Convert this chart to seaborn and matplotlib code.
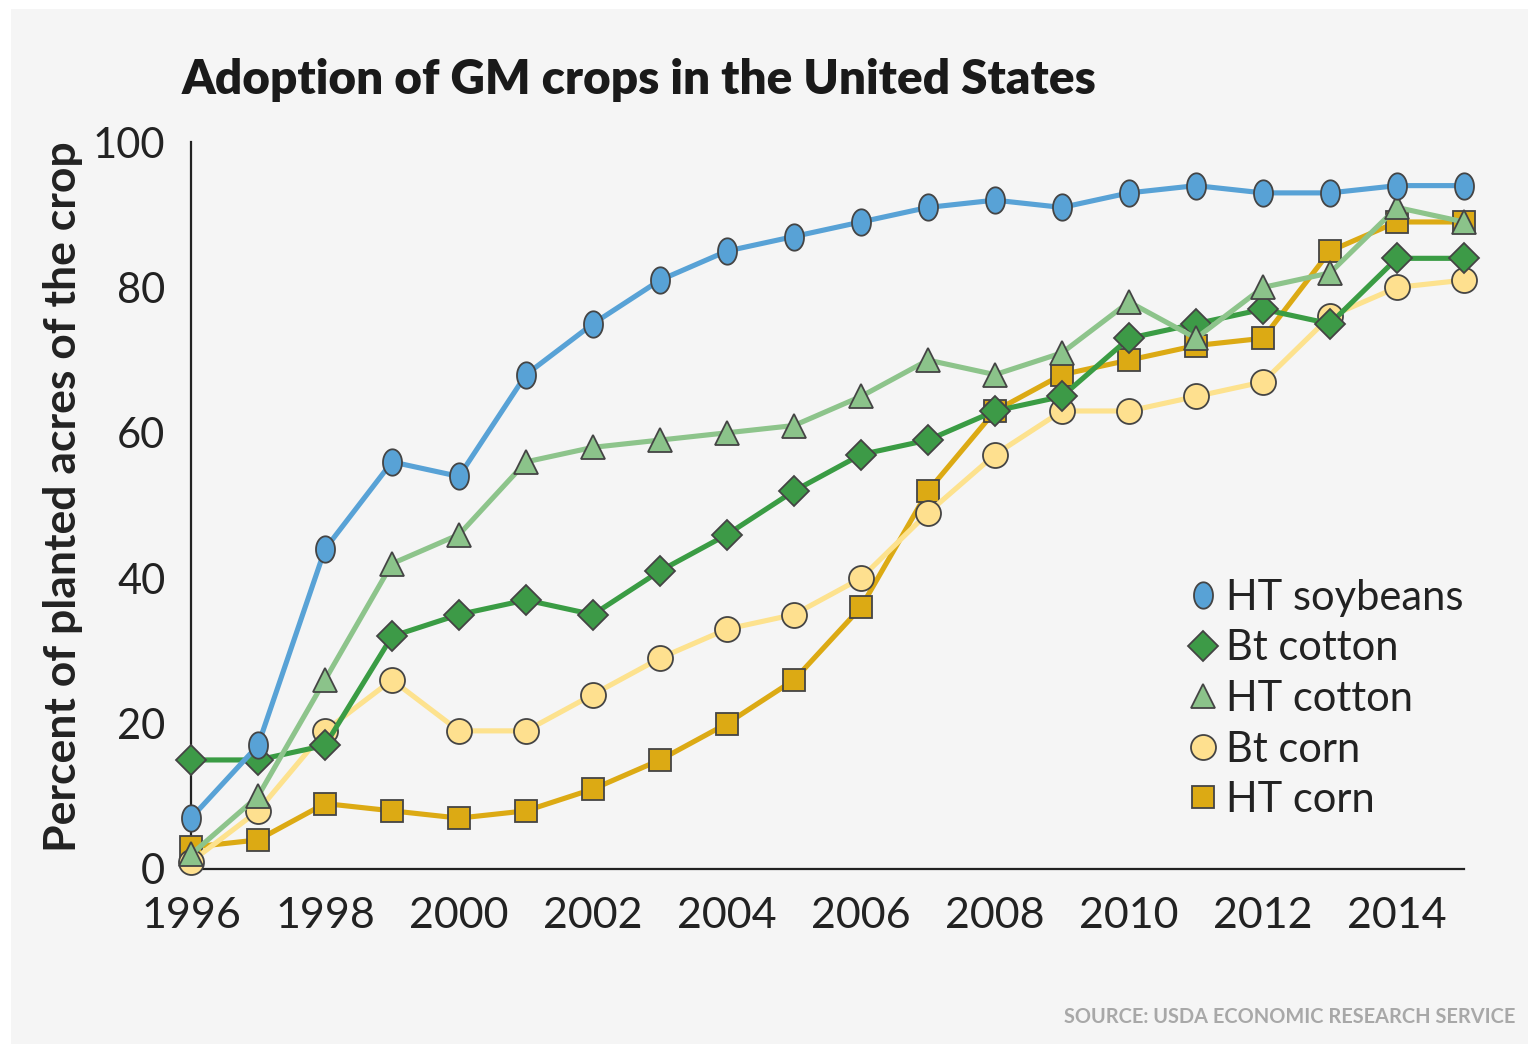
import pandas as pd
import numpy as np
import matplotlib
matplotlib.use('Agg')
import matplotlib.pyplot as plt
import seaborn as sns
from matplotlib.patches import Rectangle
from matplotlib.path import Path
from matplotlib.lines import Line2D

years = list(range(1996, 2016))
ht_soybeans = [7, 17, 44, 56, 54, 68, 75, 81, 85, 87, 89, 91, 92, 91, 93, 94, 93, 93, 94, 94]
bt_cotton = [15, 15, 17, 32, 35, 37, 35, 41, 46, 52, 57, 59, 63, 65, 73, 75, 77, 75, 84, 84]
ht_cotton = [2, 10, 26, 42, 46, 56, 58, 59, 60, 61, 65, 70, 68, 71, 78, 73, 80, 82, 91, 89]
bt_corn = [1, 8, 19, 26, 19, 19, 24, 29, 33, 35, 40, 49, 57, 63, 63, 65, 67, 76, 80, 81]
ht_corn = [3, 4, 9, 8, 7, 8, 11, 15, 20, 26, 36, 52, 63, 68, 70, 72, 73, 85, 89, 89]

series_names = ['HT soybeans', 'Bt cotton', 'HT cotton', 'Bt corn', 'HT corn']
series_values = [ht_soybeans, bt_cotton, ht_cotton, bt_corn, ht_corn]

# soybeans use a tall oval marker like the original
t = np.linspace(0, 2 * np.pi, 60)
oval = Path(np.column_stack([0.72 * np.cos(t), np.sin(t)]), closed=True)

line_colors = ['#58a2d6', '#3a9c44', '#8dc48b', '#fde28e', '#dcaa14']
marker_colors = ['#58a2d6', '#3d9a47', '#8bc38a', '#fee08f', '#dcaa14']
markers = [oval, 'D', '^', 'o', 's']
marker_sizes = [19, 15, 17, 18, 16]
# draw order, bottom to top
zorders = [10, 7, 8, 5, 4]

sns.set_style('white', {'axes.facecolor': '#f5f5f5'})
plt.rcParams['font.family'] = ['Lato', 'DejaVu Sans']

fig = plt.figure(figsize=(15.28, 10.44), dpi=100, facecolor='white')
fig.patches.append(Rectangle((11 / 1528, 0), 1 - 11 / 1528, 1 - 9 / 1044,
                             transform=fig.transFigure, facecolor='#f5f5f5',
                             edgecolor='none', zorder=-10))
ax = fig.add_axes([191 / 1528, 175 / 1044, (1464 - 191) / 1528, (869 - 142) / 1044])
ax.set_facecolor('none')

handles = []
for name, vals, lc, mc, mk, ms, z in zip(series_names, series_values, line_colors,
                                          marker_colors, markers, marker_sizes, zorders):
    df = pd.DataFrame({'year': years, 'pct': vals})
    sns.lineplot(data=df, x='year', y='pct', ax=ax, color=lc, linewidth=3.7,
                 marker=mk, markersize=ms, markerfacecolor=mc,
                 markeredgecolor='#444444', markeredgewidth=1.3,
                 zorder=z, clip_on=False, legend=False)
    handles.append(Line2D([], [], linestyle='none', marker=mk, markersize=ms,
                          markerfacecolor=mc, markeredgecolor='#444444',
                          markeredgewidth=1.3, label=name))

ax.set_xlim(1996, 2015)
ax.set_ylim(0, 100)
ax.set_xticks(range(1996, 2015, 2))
ax.set_yticks(range(0, 101, 20))
ax.tick_params(axis='both', direction='out', length=11.5, width=1.6,
               color='#222222', labelsize=30, labelcolor='#222222', pad=7)
ax.tick_params(axis='x', labelsize=31, pad=9)
for s in ['top', 'right']:
    ax.spines[s].set_visible(False)
for s in ['left', 'bottom']:
    ax.spines[s].set_linewidth(1.6)
    ax.spines[s].set_color('#222222')

ax.set_xlabel('')
ax.set_ylabel('')
fig.text(63 / 1528, 1 - 497 / 1044, 'Percent of planted acres of the crop',
         fontsize=32, fontweight='bold', color='#222222', rotation=90,
         ha='center', va='center')

leg = ax.legend(handles=handles, loc='upper left',
                bbox_to_anchor=((1184 - 191) / 1273, (869 - 579) / 727),
                frameon=False, fontsize=30, handletextpad=0.12, labelspacing=0.3,
                handlelength=0.9, borderaxespad=0, borderpad=0)
for txt in leg.get_texts():
    txt.set_color('#222222')

fig.text(182 / 1528, 1 - 80 / 1044, 'Adoption of GM crops in the United States',
         fontsize=34.3, fontweight='heavy', color='#1a1a1a', va='center', ha='left')
fig.text(1515 / 1528, 1 - 1017 / 1044, 'SOURCE: USDA ECONOMIC RESEARCH SERVICE',
         fontsize=14.4, fontweight='bold', color='#a8a8a8', va='center', ha='right')

fig.savefig('out.png', dpi=100, facecolor='white')
